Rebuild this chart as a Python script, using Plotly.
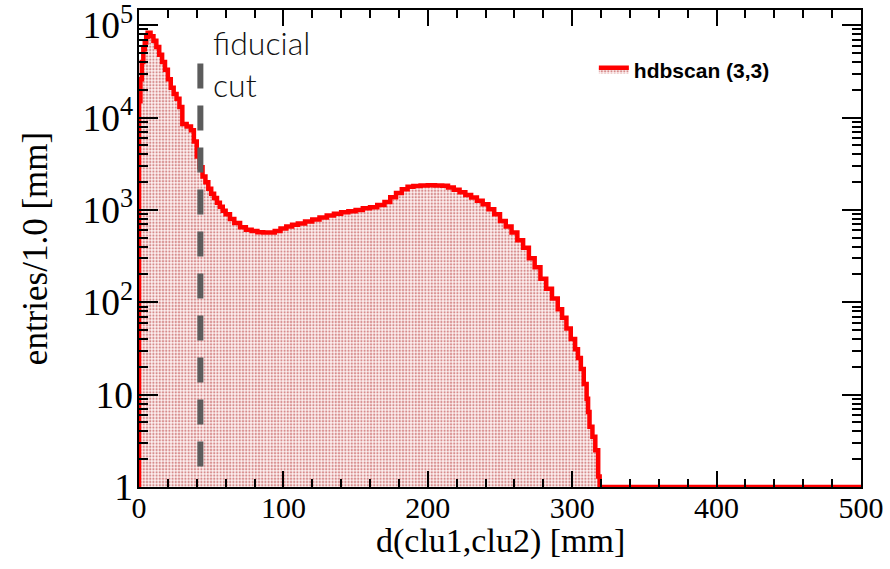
import plotly.graph_objects as go

# ---- data ----
bin_left = [0, 1, 2, 3, 4, 5, 6, 8, 10, 12, 14, 16, 18, 20, 22, 24, 26, 28, 30, 33, 36, 38, 40,
            42, 44, 46, 48, 50, 52, 54, 56, 58, 60, 63, 66, 70, 74, 78, 82, 86, 90, 94, 98,
            102, 106, 110, 115, 120, 125, 130, 135, 140, 145, 150, 155, 160, 165, 170, 174,
            178, 182, 186, 190, 195, 200, 205, 210, 214, 218, 222, 226, 230, 234, 238, 242,
            246, 250, 254, 258, 262, 266, 270, 274, 278, 282, 286, 290, 293, 296, 299, 302,
            304, 306, 308, 310, 311, 312, 314, 316, 318, 319]
counts = [15000, 26000, 40000, 55000, 65000, 75000, 83000, 76000, 68000, 58000, 48000, 40000,
          33000, 26000, 21000, 18000, 16000, 13000, 8500, 8000, 7300, 5500, 3800,
          2900, 2300, 2000, 1700, 1500, 1350, 1200, 1080, 980, 900, 800, 720, 650, 610, 590,
          575, 570, 570, 590, 630, 660, 690, 715, 750, 790, 830, 870, 910, 945, 970, 1000,
          1040, 1070, 1130, 1220, 1370, 1530, 1680, 1780, 1820, 1840, 1850, 1840, 1830, 1750,
          1650, 1550, 1450, 1360, 1260, 1150, 1020, 900, 760, 660, 570, 470, 390, 300, 240,
          180, 140, 110, 84, 68, 52, 40, 31, 25, 19, 13, 9, 6.5, 4.5, 3.5, 2.5, 1.3, 0]
x_max = 500
y_floor = 1.0          # axis minimum; empty bins are drawn on it (ROOT style)
y_top_log = 5.165

cut_x = 42.5
cut_y = [38600, 1.61]

x_tick_vals = [0, 100, 200, 300, 400, 500]
legend_name = "hdbscan (3,3)"
x_title = "d(clu1,clu2) [mm]"
y_title = "entries/1.0 [mm]"

# ---- build step curve ----
xs = [bin_left[0]] + bin_left + [x_max]
ys = [y_floor] + [max(c, y_floor) for c in counts] + [max(counts[-1], y_floor)]

fig = go.Figure()

fig.add_trace(go.Scatter(
    x=xs, y=ys, mode="lines", line_shape="hv",
    line=dict(color="#ff0000", width=4.5),
    fill="tozeroy",
    fillcolor="rgba(0,0,0,0)",
    fillpattern=dict(shape=".", fgcolor="#b02828", bgcolor="#fdf1f1",
                     size=3.2, solidity=0.4),
    name=legend_name, showlegend=True,
))

fig.add_trace(go.Scatter(
    x=[cut_x, cut_x], y=cut_y, mode="lines",
    line=dict(color="#5c5c5c", width=6, dash="25px,17px"),
    showlegend=False, hoverinfo="skip",
))

fig.add_annotation(
    x=50.0, xref="x", y=0.977, yref="paper",
    text="fiducial<br>cut", showarrow=False,
    xanchor="left", yanchor="top", align="left",
    font=dict(family="Lato", size=32, color="#111111", weight=300),
)

# x-axis title placed as an annotation so it can sit close to the tick labels
fig.add_annotation(
    x=0.5, xref="paper", y=-0.113, yref="paper",
    text=x_title, showarrow=False, xanchor="center", yanchor="middle",
    font=dict(family="Liberation Serif", size=34, color="black"),
)

axis_common = dict(
    showline=True, linecolor="black", linewidth=2, mirror="allticks",
    ticks="inside", tickcolor="black", tickwidth=2,
    showgrid=False, zeroline=False, automargin=False,
    ticklabeloverflow="allow",
    tickfont=dict(family="Liberation Serif", size=30, color="black"),
)

fig.update_xaxes(
    range=[0, x_max], tickvals=x_tick_vals, ticklen=16,
    ticklabelstandoff=-7,
    minor=dict(dtick=20, ticks="inside", ticklen=8, tickcolor="black", tickwidth=2, showgrid=False),
    **axis_common,
)
fig.update_yaxes(
    type="log", range=[0, y_top_log], dtick=1, exponentformat="power", ticklen=19,
    ticklabelstandoff=-2,
    minor=dict(ticks="inside", ticklen=9, tickcolor="black", tickwidth=2, showgrid=False),
    title=dict(text=y_title, font=dict(family="Liberation Serif", size=35, color="black"),
               standoff=24),
    **axis_common,
)

fig.update_layout(
    width=890, height=569,
    margin=dict(l=139, r=29, t=10, b=82, pad=0),
    paper_bgcolor="white", plot_bgcolor="white",
    legend=dict(x=0.63, y=0.874, xanchor="left", yanchor="middle",
                bgcolor="rgba(0,0,0,0)",
                font=dict(family="Liberation Sans", size=21, color="black", weight="bold")),
)

# remove the browser's default 8px body margin so the figure fills the window exactly
fig.write_html("out.html", config={"displayModeBar": False},
               post_script="document.body.style.margin='0px';")
